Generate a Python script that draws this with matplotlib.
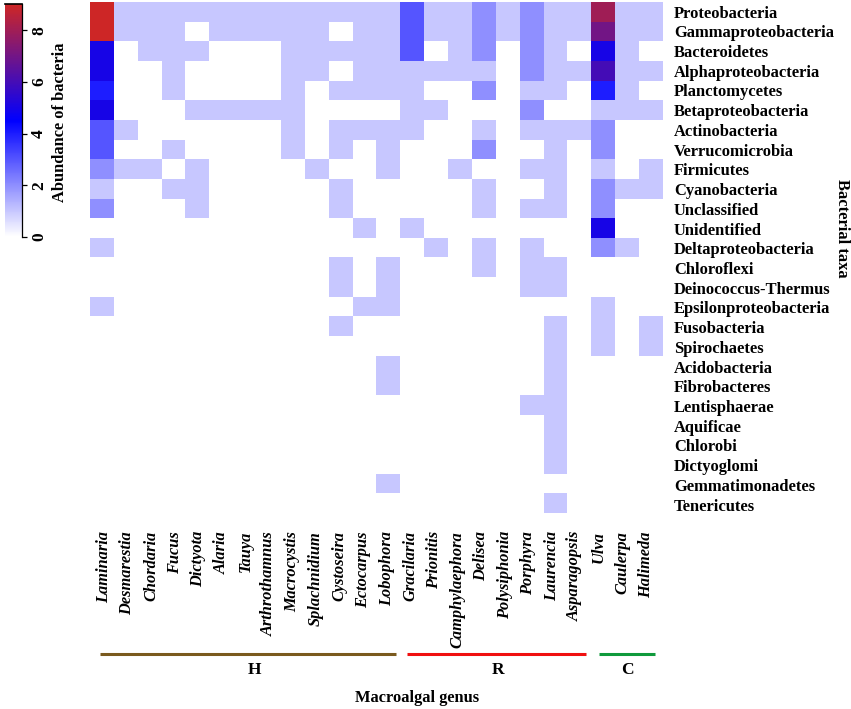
#!/usr/bin/env python3
import numpy as np
import matplotlib
matplotlib.use('Agg')
import matplotlib.pyplot as plt
from matplotlib.colors import LinearSegmentedColormap

plt.rcParams['font.family'] = ['Liberation Serif', 'DejaVu Serif']
plt.rcParams['font.weight'] = 'bold'

genera = ['Laminaria', 'Desmarestia', 'Chordaria', 'Fucus', 'Dictyota', 'Alaria',
          'Tauya', 'Arthrothamnus', 'Macrocystis', 'Splachnidium', 'Cystoseira',
          'Ectocarpus', 'Lobophora', 'Gracilaria', 'Prionitis', 'Camphylaephora',
          'Delisea', 'Polysiphonia', 'Porphyra', 'Laurencia', 'Asparagopsis',
          'Ulva', 'Caulerpa', 'Halimeda']

taxa = ['Proteobacteria', 'Gammaproteobacteria', 'Bacteroidetes', 'Alphaproteobacteria',
        'Planctomycetes', 'Betaproteobacteria', 'Actinobacteria', 'Verrucomicrobia',
        'Firmicutes', 'Cyanobacteria', 'Unclassified', 'Unidentified',
        'Deltaproteobacteria', 'Chloroflexi', 'Deinococcus-Thermus',
        'Epsilonproteobacteria', 'Fusobacteria', 'Spirochaetes', 'Acidobacteria',
        'Fibrobacteres', 'Lentisphaerae', 'Aquificae', 'Chlorobi', 'Dictyoglomi',
        'Gemmatimonadetes', 'Tenericutes']

abundance = [
    [9, 1, 1, 1, 1, 1, 1, 1, 1, 1, 1, 1, 1, 3, 1, 1, 2, 1, 2, 1, 1, 8, 1, 1],
    [9, 1, 1, 1, 0, 1, 1, 1, 1, 1, 0, 1, 1, 3, 1, 1, 2, 1, 2, 1, 1, 7, 1, 1],
    [5, 0, 1, 1, 1, 0, 0, 0, 1, 1, 1, 1, 1, 3, 0, 1, 2, 0, 2, 1, 0, 5, 1, 0],
    [5, 0, 0, 1, 0, 0, 0, 0, 1, 1, 0, 1, 1, 1, 1, 1, 1, 0, 2, 1, 1, 6, 1, 1],
    [4, 0, 0, 1, 0, 0, 0, 0, 1, 0, 1, 1, 1, 1, 0, 0, 2, 0, 1, 1, 0, 4, 1, 0],
    [5, 0, 0, 0, 1, 1, 1, 1, 1, 0, 0, 0, 0, 1, 1, 0, 0, 0, 2, 0, 0, 1, 1, 1],
    [3, 1, 0, 0, 0, 0, 0, 0, 1, 0, 1, 1, 1, 1, 0, 0, 1, 0, 1, 1, 1, 2, 0, 0],
    [3, 0, 0, 1, 0, 0, 0, 0, 1, 0, 1, 0, 1, 0, 0, 0, 2, 0, 0, 1, 0, 2, 0, 0],
    [2, 1, 1, 0, 1, 0, 0, 0, 0, 1, 0, 0, 1, 0, 0, 1, 0, 0, 1, 1, 0, 1, 0, 1],
    [1, 0, 0, 1, 1, 0, 0, 0, 0, 0, 1, 0, 0, 0, 0, 0, 1, 0, 0, 1, 0, 2, 1, 1],
    [2, 0, 0, 0, 1, 0, 0, 0, 0, 0, 1, 0, 0, 0, 0, 0, 1, 0, 1, 1, 0, 2, 0, 0],
    [0, 0, 0, 0, 0, 0, 0, 0, 0, 0, 0, 1, 0, 1, 0, 0, 0, 0, 0, 0, 0, 5, 0, 0],
    [1, 0, 0, 0, 0, 0, 0, 0, 0, 0, 0, 0, 0, 0, 1, 0, 1, 0, 1, 0, 0, 2, 1, 0],
    [0, 0, 0, 0, 0, 0, 0, 0, 0, 0, 1, 0, 1, 0, 0, 0, 1, 0, 1, 1, 0, 0, 0, 0],
    [0, 0, 0, 0, 0, 0, 0, 0, 0, 0, 1, 0, 1, 0, 0, 0, 0, 0, 1, 1, 0, 0, 0, 0],
    [1, 0, 0, 0, 0, 0, 0, 0, 0, 0, 0, 1, 1, 0, 0, 0, 0, 0, 0, 0, 0, 1, 0, 0],
    [0, 0, 0, 0, 0, 0, 0, 0, 0, 0, 1, 0, 0, 0, 0, 0, 0, 0, 0, 1, 0, 1, 0, 1],
    [0, 0, 0, 0, 0, 0, 0, 0, 0, 0, 0, 0, 0, 0, 0, 0, 0, 0, 0, 1, 0, 1, 0, 1],
    [0, 0, 0, 0, 0, 0, 0, 0, 0, 0, 0, 0, 1, 0, 0, 0, 0, 0, 0, 1, 0, 0, 0, 0],
    [0, 0, 0, 0, 0, 0, 0, 0, 0, 0, 0, 0, 1, 0, 0, 0, 0, 0, 0, 1, 0, 0, 0, 0],
    [0, 0, 0, 0, 0, 0, 0, 0, 0, 0, 0, 0, 0, 0, 0, 0, 0, 0, 1, 1, 0, 0, 0, 0],
    [0, 0, 0, 0, 0, 0, 0, 0, 0, 0, 0, 0, 0, 0, 0, 0, 0, 0, 0, 1, 0, 0, 0, 0],
    [0, 0, 0, 0, 0, 0, 0, 0, 0, 0, 0, 0, 0, 0, 0, 0, 0, 0, 0, 1, 0, 0, 0, 0],
    [0, 0, 0, 0, 0, 0, 0, 0, 0, 0, 0, 0, 0, 0, 0, 0, 0, 0, 0, 1, 0, 0, 0, 0],
    [0, 0, 0, 0, 0, 0, 0, 0, 0, 0, 0, 0, 1, 0, 0, 0, 0, 0, 0, 0, 0, 0, 0, 0],
    [0, 0, 0, 0, 0, 0, 0, 0, 0, 0, 0, 0, 0, 0, 0, 0, 0, 0, 0, 1, 0, 0, 0, 0],
]

group_names = ['H', 'R', 'C']
group_colors = ['#7a5a1e', '#f01010', '#109a3c']

W, H = 851, 709
AX_LEFT, AX_TOP, AX_W, AX_H = 90, 2.5, 573, 510.8
n_rows, n_cols = len(taxa), len(genera)

def fx(px):
    return px / W

def fy(py):
    return 1 - py / H

# pixel -> coordenadas das celulas
def col_of(px):
    return (px - AX_LEFT) / (AX_W / n_cols) - 0.5

def row_of(py):
    return (py - AX_TOP) / (AX_H / n_rows) - 0.5

cmap = LinearSegmentedColormap.from_list('wbr', ['#ffffff', '#0000ff', '#cd2626'])

fig = plt.figure(figsize=(W / 100, H / 100), dpi=100)
ax = fig.add_axes([fx(AX_LEFT), fy(AX_TOP + AX_H), AX_W / W, AX_H / H])
mesh = ax.imshow(np.array(abundance), cmap=cmap, vmin=0, vmax=9, aspect='auto',
                 interpolation='nearest')
ax.set_xticks([])
ax.set_yticks([])
for side in ax.spines.values():
    side.set_visible(False)

# rotulos um pouco deslocados das celulas, como no original
for i, name in enumerate(genera):
    ax.text(col_of(103.9 + i * 23.57), row_of(531), name, rotation=90, style='italic',
            fontsize=11.8, fontweight='bold', ha='center', va='top', clip_on=False)
for i, name in enumerate(taxa):
    ax.text(col_of(674), row_of(13.6 + i * 19.72), name, fontsize=11.9, fontweight='bold',
            ha='left', va='center', clip_on=False)

# barras dos grupos
line_starts = [100, 407, 598.6]
line_ends = [396, 586, 655]
letter_x = [254, 498, 627]
for name, x0, x1, lx, color in zip(group_names, line_starts, line_ends, letter_x, group_colors):
    ax.plot([col_of(x0), col_of(x1)], [row_of(654.3)] * 2, color=color, lw=2.2,
            clip_on=False, solid_capstyle='butt')
    ax.text(col_of(lx), row_of(670), name, ha='center', va='center', fontsize=12.5,
            fontweight='bold', clip_on=False)
ax.set_xlim(-0.5, n_cols - 0.5)
ax.set_ylim(n_rows - 0.5, -0.5)

fig.text(fx(417), fy(698), 'Macroalgal genus', ha='center', va='center', fontsize=11.8,
         fontweight='bold')
fig.text(fx(842), fy(228), 'Bacterial taxa', ha='center', va='center', rotation=270,
         fontsize=11.9, fontweight='bold')

# barra de cores
cax = fig.add_axes([fx(5), fy(237), 17 / W, 232.5 / H])
cb = fig.colorbar(mesh, cax=cax, ticks=[0, 2, 4, 6, 8])
cb.outline.set_visible(False)
cax.spines['right'].set_visible(True)
cax.spines['top'].set_visible(True)
cax.spines['right'].set_linewidth(0.9)
cax.spines['top'].set_linewidth(1.2)
cax.tick_params(axis='y', length=3.5, width=0.9, pad=3)
for label in cax.get_yticklabels():
    label.set_rotation(90)
    label.set_va('center')
    label.set_fontsize(12.5)
    label.set_fontweight('bold')
fig.text(fx(60), fy(122.5), 'Abundance of bacteria', rotation=90, ha='center', va='center',
         fontsize=11.8, fontweight='bold')

fig.savefig('out.png', dpi=100)
